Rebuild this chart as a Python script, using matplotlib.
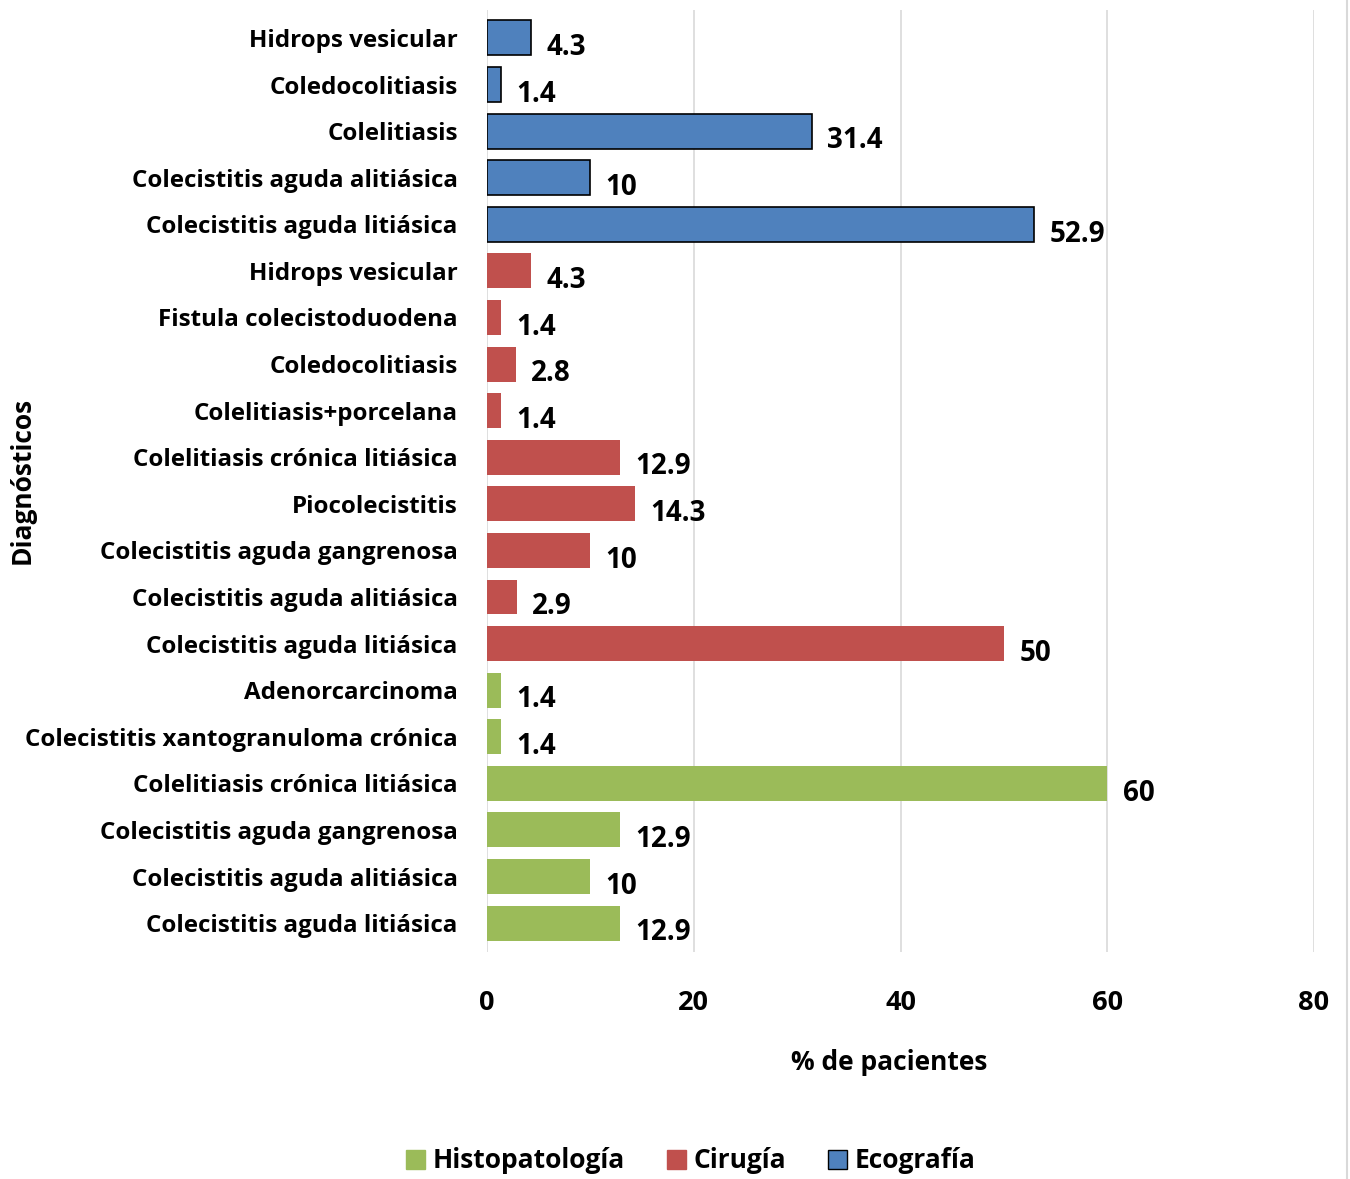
import matplotlib
matplotlib.use("Agg")
import matplotlib.pyplot as plt
from matplotlib.patches import Patch
from matplotlib.lines import Line2D

plt.rcParams['font.family'] = ['Open Sans', 'DejaVu Sans']
plt.rcParams['font.weight'] = 'bold'

# Data, top to bottom
categories = [
    "Hidrops vesicular", "Coledocolitiasis", "Colelitiasis",
    "Colecistitis aguda alitiásica", "Colecistitis aguda litiásica",
    "Hidrops vesicular", "Fistula colecistoduodena", "Coledocolitiasis",
    "Colelitiasis+porcelana", "Colelitiasis crónica litiásica",
    "Piocolecistitis", "Colecistitis aguda gangrenosa",
    "Colecistitis aguda alitiásica", "Colecistitis aguda litiásica",
    "Adenorcarcinoma", "Colecistitis xantogranuloma crónica",
    "Colelitiasis crónica litiásica", "Colecistitis aguda gangrenosa",
    "Colecistitis aguda alitiásica", "Colecistitis aguda litiásica",
]
values = [4.3, 1.4, 31.4, 10, 52.9,
          4.3, 1.4, 2.8, 1.4, 12.9, 14.3, 10, 2.9, 50,
          1.4, 1.4, 60, 12.9, 10, 12.9]
groups = ["Ecografía"] * 5 + ["Cirugía"] * 9 + ["Histopatología"] * 6
labels = ["4.3", "1.4", "31.4", "10", "52.9",
          "4.3", "1.4", "2.8", "1.4", "12.9", "14.3", "10", "2.9", "50",
          "1.4", "1.4", "60", "12.9", "10", "12.9"]
legend_order = ["Histopatología", "Cirugía", "Ecografía"]
xticks = [0, 20, 40, 60, 80]

colors = {"Ecografía": "#4F81BD", "Cirugía": "#C0504D", "Histopatología": "#9BBB59"}
edges = {"Ecografía": "black", "Cirugía": "none", "Histopatología": "none"}

fig = plt.figure(figsize=(13.5, 11.79), dpi=100)
ax = fig.add_axes([487/1350, 1-952/1179, (1314-487)/1350, (952-10)/1179])

ypos = list(range(len(categories)))
for y, v, g, lab in zip(ypos, values, groups, labels):
    ax.barh(y, v, height=0.75, color=colors[g], edgecolor=edges[g],
            linewidth=1.2 if g == "Ecografía" else 0, zorder=3)
    ax.annotate(lab, xy=(v, y), xytext=(11, -7), textcoords='offset points',
                ha='left', va='center', fontsize=20, fontweight='bold')

ax.set_ylim(19.62, -0.6)
ax.set_xlim(0, 80)
ax.set_xticks(xticks)
ax.set_xticklabels([str(t) for t in xticks], fontsize=19.5, fontweight='bold')
ax.set_yticks(ypos)
ax.set_yticklabels(categories, fontsize=17.4, fontweight='bold')
ax.tick_params(axis='both', length=0)
ax.tick_params(axis='x', pad=27)
ax.tick_params(axis='y', pad=21)
ax.grid(axis='x', color='#D9D9D9', linewidth=1.2, zorder=0)
for s in ax.spines.values():
    s.set_visible(False)

ax.set_xlabel("% de pacientes", fontsize=19, fontweight='bold', va='center')
ax.xaxis.set_label_coords((889-487)/827, (952-1062)/942)
fig.text(22/1350, 1-480/1179, "Diagnósticos", rotation=90, ha='center', va='center',
         fontsize=19, fontweight='bold')

# right border line of chart area
fig.add_artist(Line2D([1347/1350, 1347/1350], [0, 1], color='#D9D9D9', linewidth=1.5,
                      transform=fig.transFigure))

handles = [Patch(facecolor=colors[g], edgecolor=('black' if g == "Ecografía" else colors[g]),
                 linewidth=1.0) for g in legend_order]
fig.legend(handles, legend_order, loc='center', bbox_to_anchor=(691/1350, 1-1161/1179),
           ncol=3, frameon=False, handlelength=0.7, handleheight=0.7,
           handletextpad=0.3, columnspacing=1.6, prop={'weight': 'bold', 'size': 19})

fig.savefig("out.png", dpi=100)
